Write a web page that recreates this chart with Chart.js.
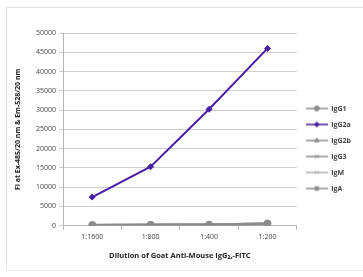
<!DOCTYPE html>
<html>
<head>
<meta charset="utf-8">
<script src="https://cdn.jsdelivr.net/npm/chart.js@4/dist/chart.umd.min.js"></script>
<style>
  html, body { margin: 0; padding: 0; background: #fff; }
  #wrap { position: relative; width: 363px; height: 277px; }
  #frame { position: absolute; left: 6px; top: 7px; width: 400px; height: 262px;
           border-left: 1px solid #e2e2e2; border-top: 1px solid #e2e2e2; border-bottom: 1px solid #f0f0f0; }
  canvas { position: absolute; left: 0; top: 0; }
</style>
</head>
<body>
<div id="wrap">
  <div id="frame"></div>
  <canvas id="chart" width="363" height="277"></canvas>
</div>
<script>
// Datos del gráfico
const dilutions = ["1:1600", "1:800", "1:400", "1:200"];
const seriesNames = ["IgG1", "IgG2a", "IgG2b", "IgG3", "IgM", "IgA"];
const igG1 = [150, 200, 250, 550];
const igG2a = [7400, 15300, 30200, 46000];
const igG2b = [100, 150, 200, 400];
const igG3 = [100, 120, 180, 350];
const igM = [80, 100, 150, 300];
const igA = [120, 150, 220, 450];
const yTicks = [0, 5000, 10000, 15000, 20000, 25000, 30000, 35000, 40000, 45000, 50000];

const colors = ["#8c8c8c", "#4a1fa3", "#8c8c8c", "#8c8c8c", "#b0b0b0", "#8c8c8c"];
const styles = ["circle", "rectRot", "triangle", "crossRot", "crossRot", "rect"];
const values = [igG1, igG2a, igG2b, igG3, igM, igA];

const fam = "'Open Sans', Lato, sans-serif";

// Icono de leyenda: línea con marcador
const legendIcon = (color, style) => {
  const c = document.createElement("canvas");
  c.width = 22;
  c.height = 8;
  const g = c.getContext("2d");
  g.strokeStyle = color;
  g.fillStyle = color;
  g.lineWidth = 1.5;
  g.beginPath();
  g.moveTo(0, 4);
  g.lineTo(22, 4);
  g.stroke();
  g.lineWidth = 1;
  Chart.helpers.drawPoint(g, { pointStyle: style, radius: 2.5, borderWidth: 1 }, 11, 4);
  return c;
};

const datasets = seriesNames.map((name, i) => ({
  label: name,
  data: values[i],
  borderColor: colors[i],
  backgroundColor: colors[i],
  borderWidth: i === 1 ? 2 : 2.5,
  pointStyle: styles[i],
  pointRadius: i === 1 ? 3 : 3.5,
  pointBorderWidth: 1,
  tension: 0,
}));

const ctx = document.getElementById("chart").getContext("2d");
const font = { family: fam, size: 7 };

new Chart(ctx, {
  type: "line",
  data: { labels: dilutions, datasets: datasets.slice().reverse() },
  options: {
    responsive: false,
    animation: false,
    layout: { padding: { left: 10, top: 33, right: 2, bottom: 13 } },
    plugins: {
      tooltip: { enabled: false },
      legend: {
        position: "right",
        align: "center",
        labels: {
          usePointStyle: true,
          pointStyleWidth: 22,
          boxHeight: 8,
          font: { family: fam, size: 7, weight: "bold" },
          color: "#444",
          padding: 9,
          generateLabels: () =>
            seriesNames.map((name, i) => ({
              text: name,
              pointStyle: legendIcon(colors[i], styles[i]),
              fontColor: "#444",
              lineWidth: 0,
              hidden: false,
              datasetIndex: seriesNames.length - 1 - i,
            })),
        },
      },
    },
    scales: {
      x: {
        offset: true,
        grid: { display: true, drawOnChartArea: false, offset: true, tickLength: 4, color: "#b5b5b5" },
        border: { color: "#b5b5b5" },
        ticks: { font, color: "#444", padding: 3 },
        title: {
          display: true,
          text: "Dilution of Goat Anti-Mouse IgG₂ₐ-FITC",
          font: { family: fam, size: 7.5, weight: "bold" },
          color: "#222",
          padding: { top: 7 },
        },
      },
      y: {
        min: 0,
        max: 50000,
        afterBuildTicks: (axis) => {
          axis.ticks = yTicks.map((v) => ({ value: v }));
        },
        afterFit: (axis) => {
          axis.width = 53;
        },
        grid: { color: "#cfcfcf", tickLength: 4 },
        border: { color: "#b5b5b5" },
        ticks: { font, color: "#444", padding: 3, callback: (v) => String(v) },
        title: {
          display: true,
          text: "Fl at Ex-485/20 nm & Em-528/20 nm",
          font: { family: fam, size: 7, weight: "bold" },
          color: "#222",
          padding: { bottom: 4 },
        },
      },
    },
  },
});
</script>
</body>
</html>
